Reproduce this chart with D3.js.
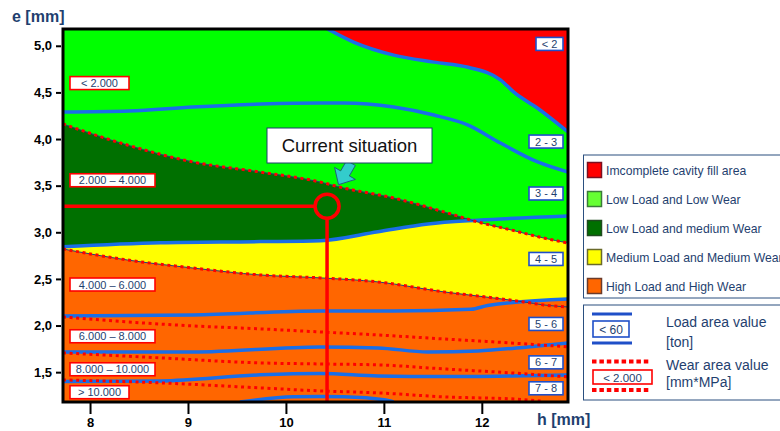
<!doctype html>
<meta charset="utf-8">
<title>process window e / h</title>
<script src="https://cdn.jsdelivr.net/npm/d3@7"></script>
<style>
  body { margin: 0; background: #fff; }
  svg { font-family: Arial, "Liberation Sans", sans-serif; }
</style>
<body>
<svg id="chart" width="780" height="431"></svg>
<script>

// plot range (h, e in mm)
var hDomain = [7.724, 12.88];
var eDomain = [1.18, 5.18];
var hTicks = [8, 9, 10, 11, 12];
var eTicks = [1.5, 2.0, 2.5, 3.0, 3.5, 4.0, 4.5, 5.0];

// load boundaries [h, e]
var loadRed = [[10.425,5.18],[10.69,5.04],[11.10,4.90],[11.51,4.825],[11.86,4.77],[12.19,4.635],[12.33,4.50],[12.57,4.33],[12.88,4.075]];
var load23 = [[7.724,4.289],[8.4,4.30],[9.05,4.343],[9.75,4.375],[10.35,4.386],[10.59,4.386],[11.10,4.343],[11.51,4.257],[11.86,4.15],[12.19,3.957],[12.57,3.754],[12.88,3.646]];
var load34 = [[7.724,2.845],[8.72,2.888],[9.74,2.90],[10.35,2.91],[10.94,3.006],[11.45,3.089],[11.96,3.13],[12.88,3.175]];
var load45 = [[7.724,2.103],[9.05,2.114],[10.35,2.156],[11.10,2.156],[11.89,2.175],[12.06,2.215],[12.88,2.285]];
var load56 = [[7.724,1.717],[9.05,1.717],[10.35,1.771],[10.94,1.760],[11.45,1.717],[11.96,1.728],[12.47,1.771],[12.88,1.813]];
var load67 = [[7.724,1.40],[8.72,1.406],[9.74,1.471],[10.35,1.485],[10.94,1.46],[11.61,1.453],[12.30,1.46],[12.88,1.471]];
var load78 = [[9.53,1.181],[10.08,1.235],[10.35,1.238],[10.59,1.235],[11.0,1.203],[11.1,1.181]];

// wear boundaries [h, e]
var wear2000 = [[7.724,4.161],[8.38,3.936],[9.05,3.754],[9.74,3.646],[10.35,3.539],[10.59,3.475],[11.10,3.368],[11.65,3.207],[11.96,3.110],[12.30,3.025],[12.63,2.939],[12.88,2.885]];
var wear4000 = [[7.724,2.821],[8.38,2.703],[9.05,2.617],[9.74,2.542],[10.35,2.511],[10.94,2.468],[11.61,2.361],[12.12,2.296],[12.43,2.253],[12.63,2.221],[12.88,2.199]];
var wear6000 = [[7.724,2.092],[8.38,2.039],[9.05,1.996],[9.74,1.964],[10.35,1.931],[10.94,1.899],[11.61,1.856],[12.30,1.813],[12.88,1.771]];
var wear8000 = [[7.724,1.706],[8.72,1.653],[9.74,1.599],[10.35,1.588],[10.94,1.578],[11.61,1.535],[12.30,1.492],[12.88,1.449]];
var wear10000 = [[7.724,1.417],[8.72,1.385],[9.74,1.331],[10.35,1.299],[10.94,1.278],[11.61,1.235],[12.37,1.21],[12.6,1.19]];

// labels
var wearLabels = ["< 2.000", "2.000 \u2013 4.000", "4.000 \u2013 6.000", "6.000 \u2013 8.000", "8.000 \u2013 10.000", "> 10.000"];
var wearLabelE = [4.60, 3.558, 2.44, 1.885, 1.531, 1.285];
var loadLabels = ["< 2", "2 - 3", "3 - 4", "4 - 5", "5 - 6", "6 - 7", "7 - 8"];
var loadLabelE = [5.02, 3.973, 3.416, 2.714, 2.017, 1.605, 1.327];

var currentPoint = [10.42, 3.28];

var legendNames = ["Imcomplete cavity fill area", "Low Load and Low Wear", "Low Load and medium Wear", "Medium Load and Medium Wear", "High Load and High Wear"];
var legendColors = ["#ff0000", "#66ff33", "#007000", "#ffff00", "#ff6600"];
var legendEdges = ["#7a1020", "#3a7a3a", "#1f4a1f", "#6a6a2a", "#6a3a2a"];

var LIME = "#00ff00", DKGREEN = "#007000", YELLOW = "#ffff00", ORANGE = "#ff6600", RED = "#ff0000";
var BLUE = "#1a6ee8", TXT = "#1f3f6f";

var svg = d3.select("#chart");
var L = 63, R = 568, T = 29, B = 402;

var x = d3.scaleLinear().domain(hDomain).range([L, R]);
var y = d3.scaleLinear().domain(eDomain).range([B, T]);

var line = d3.line().x(function(d) { return x(d[0]); }).y(function(d) { return y(d[1]); }).curve(d3.curveMonotoneX);
var below = d3.area().x(function(d) { return x(d[0]); }).y0(B).y1(function(d) { return y(d[1]); }).curve(d3.curveMonotoneX);
var above = d3.area().x(function(d) { return x(d[0]); }).y0(T).y1(function(d) { return y(d[1]); }).curve(d3.curveMonotoneX);

var defs = svg.append("defs");
defs.append("clipPath").attr("id", "plot")
  .append("rect").attr("x", L).attr("y", T).attr("width", R - L).attr("height", B - T);
defs.append("clipPath").attr("id", "belowA")
  .append("path").attr("d", below(wear2000));

var g = svg.append("g").attr("clip-path", "url(#plot)");

// regions
g.append("rect").attr("x", L).attr("y", T).attr("width", R - L).attr("height", B - T).attr("fill", LIME);
g.append("path").attr("d", below(wear2000)).attr("fill", DKGREEN);
g.append("path").attr("d", below(load34)).attr("fill", YELLOW).attr("clip-path", "url(#belowA)");
g.append("path").attr("d", below(wear4000)).attr("fill", ORANGE);
g.append("path").attr("d", below(load45)).attr("fill", ORANGE);
g.append("path").attr("d", above(loadRed)).attr("fill", RED);

// load lines
[loadRed, load23, load34, load45, load56, load67, load78].forEach(function(d) {
  g.append("path").attr("d", line(d)).attr("fill", "none")
    .attr("stroke", BLUE).attr("stroke-width", 3.5);
});

// wear lines
[wear2000, wear4000].forEach(function(d) {
  g.append("path").attr("d", line(d)).attr("fill", "none")
    .attr("stroke", "#23407a").attr("stroke-width", 1);
});
[wear2000, wear4000, wear6000, wear8000, wear10000].forEach(function(d) {
  g.append("path").attr("d", line(d)).attr("fill", "none")
    .attr("stroke", RED).attr("stroke-width", 3).attr("stroke-dasharray", "3,3.6");
});

// current situation marker
var cx = x(currentPoint[0]), cy = y(currentPoint[1]), r = 12;
g.append("line").attr("x1", L).attr("x2", cx - r).attr("y1", cy).attr("y2", cy)
  .attr("stroke", RED).attr("stroke-width", 3.5);
g.append("line").attr("x1", cx).attr("x2", cx).attr("y1", cy + r).attr("y2", B)
  .attr("stroke", RED).attr("stroke-width", 3.5);
g.append("circle").attr("cx", cx).attr("cy", cy).attr("r", r)
  .attr("fill", "none").attr("stroke", RED).attr("stroke-width", 3.5);

// wear labels
wearLabels.forEach(function(t, i) {
  var w = t.length < 9 ? 59 : 85, yc = y(wearLabelE[i]);
  svg.append("rect").attr("x", 70).attr("y", yc - 6.5).attr("width", w).attr("height", 13)
    .attr("fill", "#fff").attr("stroke", RED).attr("stroke-width", 1.6);
  svg.append("text").attr("x", 70 + w / 2).attr("y", yc + 4).attr("text-anchor", "middle")
    .attr("font-size", 11).attr("fill", TXT).text(t);
});

// load labels
loadLabels.forEach(function(t, i) {
  var w = t.length < 4 ? 27 : 34, yc = y(loadLabelE[i]);
  svg.append("rect").attr("x", 563 - w).attr("y", yc - 6.5).attr("width", w).attr("height", 13)
    .attr("fill", "#fff").attr("stroke", "#1f4fc8").attr("stroke-width", 1.6);
  svg.append("text").attr("x", 563 - w / 2).attr("y", yc + 4).attr("text-anchor", "middle")
    .attr("font-size", 11).attr("fill", TXT).text(t);
});

// frame
svg.append("rect").attr("x", L).attr("y", T).attr("width", R - L).attr("height", B - T)
  .attr("fill", "none").attr("stroke", "#000").attr("stroke-width", 3);

// axes
var yAxis = svg.append("g").attr("transform", "translate(" + (L - 2) + ",0)")
  .call(d3.axisLeft(y).tickValues(eTicks).tickSize(5).tickPadding(4)
    .tickFormat(function(d) { return d3.format(".1f")(d).replace(".", ","); }));
var xAxis = svg.append("g").attr("transform", "translate(0," + (B + 1) + ")")
  .call(d3.axisBottom(x).tickValues(hTicks).tickSize(11).tickPadding(4).tickFormat(d3.format("d")));
[yAxis, xAxis].forEach(function(a) {
  a.select(".domain").remove();
  a.selectAll(".tick line").attr("stroke", "#000").attr("stroke-width", 2);
  a.selectAll(".tick text").attr("fill", "#000").attr("font-size", 13).attr("font-weight", "bold")
    .attr("font-family", "Arial, 'Liberation Sans', sans-serif");
});

svg.append("text").attr("x", 12).attr("y", 22).attr("font-size", 16).attr("font-weight", "bold")
  .attr("fill", TXT).text("e [mm]");
svg.append("text").attr("x", 537).attr("y", 425).attr("font-size", 16).attr("font-weight", "bold")
  .attr("fill", TXT).text("h [mm]");

// callout
svg.append("g").attr("transform", "translate(351,163) rotate(30)")
  .append("path").attr("d", "M-5,0 L5,0 L5,12 L12,12 L0,25 L-12,12 L-5,12 Z")
  .attr("fill", "#33cccc").attr("stroke", "#1f4f7f").attr("stroke-width", 0.8);
svg.append("rect").attr("x", 267).attr("y", 128).attr("width", 165).attr("height", 35)
  .attr("fill", "#fff").attr("stroke", "#1f3f6f").attr("stroke-width", 1);
svg.append("text").attr("x", 349.5).attr("y", 152).attr("text-anchor", "middle")
  .attr("font-size", 18.5).attr("fill", "#111").text("Current situation");

// legend, colour areas
svg.append("rect").attr("x", 583.5).attr("y", 155).attr("width", 220).attr("height", 143)
  .attr("fill", "#fff").attr("stroke", "#2a4f7f").attr("stroke-width", 1);
legendNames.forEach(function(t, i) {
  var yc = 170 + i * 29;
  svg.append("rect").attr("x", 587.5).attr("y", yc - 7.5).attr("width", 14).attr("height", 15)
    .attr("fill", legendColors[i]).attr("stroke", legendEdges[i]).attr("stroke-width", 1.5);
  svg.append("text").attr("x", 606).attr("y", yc + 4.5).attr("font-size", 12.2)
    .attr("fill", TXT).text(t);
});

// legend, lines
svg.append("rect").attr("x", 583.5).attr("y", 305).attr("width", 220).attr("height", 95)
  .attr("fill", "#fff").attr("stroke", "#2a4f7f").attr("stroke-width", 1);
[314, 343].forEach(function(v) {
  svg.append("line").attr("x1", 592).attr("x2", 632).attr("y1", v).attr("y2", v)
    .attr("stroke", "#1f4fc8").attr("stroke-width", 3);
});
svg.append("rect").attr("x", 593).attr("y", 321).attr("width", 36).attr("height", 16)
  .attr("fill", "#fff").attr("stroke", "#1f4fc8").attr("stroke-width", 1.6);
svg.append("text").attr("x", 611).attr("y", 333.5).attr("text-anchor", "middle")
  .attr("font-size", 12).attr("fill", TXT).text("< 60");
[361.5, 390].forEach(function(v) {
  svg.append("line").attr("x1", 592).attr("x2", 650).attr("y1", v).attr("y2", v)
    .attr("stroke", RED).attr("stroke-width", 4).attr("stroke-dasharray", "4.5,2.9");
});
svg.append("rect").attr("x", 593).attr("y", 370).attr("width", 59).attr("height", 14)
  .attr("fill", "#fff").attr("stroke", RED).attr("stroke-width", 1.6);
svg.append("text").attr("x", 622.5).attr("y", 381.5).attr("text-anchor", "middle")
  .attr("font-size", 11.5).attr("fill", TXT).text("< 2.000");
[["Load area value", 327], ["[ton]", 347], ["Wear area value", 370], ["[mm*MPa]", 387]].forEach(function(d) {
  svg.append("text").attr("x", 666).attr("y", d[1]).attr("font-size", 14)
    .attr("fill", TXT).text(d[0]);
});

</script>
</body>
